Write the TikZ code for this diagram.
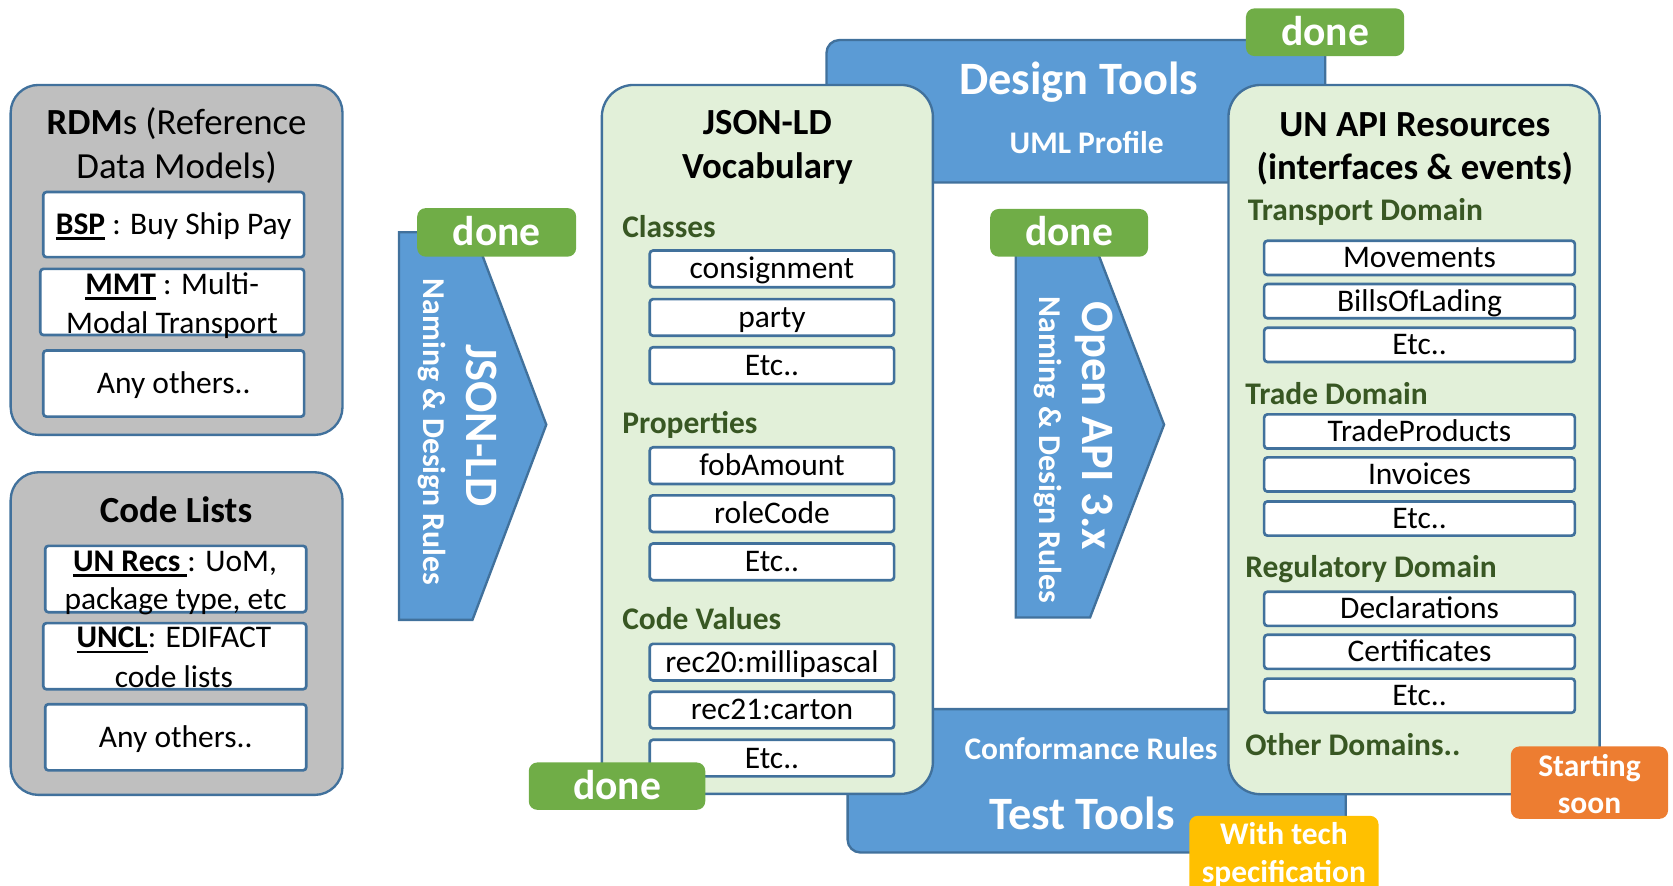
\documentclass[tikz,border=0pt]{standalone}
\usepackage{fontspec}
\setmainfont{Carlito}
\definecolor{bluefill}{HTML}{5B9BD5}
\definecolor{blueline}{HTML}{41719C}
\definecolor{grayfill}{HTML}{BFBFBF}
\definecolor{greenfill}{HTML}{E2F0D9}
\definecolor{darkgreen}{HTML}{385723}
\definecolor{donegreen}{HTML}{70AD47}
\definecolor{orangefill}{HTML}{ED7D31}
\definecolor{yellowfill}{HTML}{FFC000}
\newcommand\bodyfont{\fontsize{29.5}{36}\selectfont}
\newcommand\titlefont{\fontsize{34.5}{41}\selectfont}
\newcommand\bigfont{\fontsize{43.5}{52}\selectfont}
\newcommand\donefont{\fontsize{39}{46}\selectfont}
\newcommand\rulefont{\fontsize{29.8}{36}\selectfont}
\newcommand\myul[1]{\setbox0=\hbox{#1}\rlap{\rule[-5pt]{\wd0}{2.5pt}}\box0\relax}
\begin{document}
\begin{tikzpicture}[x=1pt,y=-1pt,
  cont/.style={draw=blueline, line width=2.2pt, inner sep=0pt},
  graybox/.style={cont, fill=grayfill, rounded corners=26pt},
  greenbox/.style={cont, fill=greenfill, rounded corners=30pt},
  bluebox/.style={cont, fill=bluefill, rounded corners=12pt},
  item/.style={draw=blueline, line width=2.5pt, fill=white, rounded corners=3pt, inner sep=0pt},
  fbody/.style={font=\bodyfont, text height=18.6pt, text depth=0pt, inner sep=0pt},
  ftitle/.style={font=\titlefont, text height=21.7pt, text depth=0pt, inner sep=0pt},
  fbig/.style={font=\bigfont, text height=27.4pt, text depth=0pt, inner sep=0pt},
  fdone/.style={font=\donefont, text height=24.6pt, text depth=0pt, inner sep=0pt},
  frule/.style={font=\rulefont, text height=18.8pt, text depth=0pt, inner sep=0pt},
  hdr/.style={fbody, text=darkgreen, anchor=west},
  badge/.style={rounded corners=8pt, text=white, inner sep=0pt},
  arrowshape/.style={draw=blueline, line width=2.2pt, fill=bluefill, line join=miter},
]
\useasboundingbox (0,0) rectangle (1568,830);

% background blue boxes
\node[bluebox, minimum width=467.4pt, minimum height=133.5pt] (design) at (1008.3,104.3) {};
\node[bluebox, minimum width=466.8pt, minimum height=134.4pt] (test) at (1027.8,731.8) {};
\node[fbig, text=white] (designt) at (1011,75) {\textbf{Design Tools}};
\node[fbody, text=white] (uml) at (1018.5,135) {\textbf{UML Profile}};
\node[fbody, text=white] (conf) at (1022.5,702.7) {\textbf{Conformance Rules}};
\node[fbig, text=white] (testt) at (1014,763.6) {\textbf{Test Tools}};

% containers
\node[graybox, minimum width=311pt, minimum height=328pt] (rdm) at (165.5,243.6) {};
\node[graybox, minimum width=311pt, minimum height=302.4pt] (codel) at (165.5,593.8) {};
\node[greenbox, minimum width=310.3pt, minimum height=664.4pt] (vocab) at (719.2,411.8) {};
\node[greenbox, minimum width=347.9pt, minimum height=664.7pt] (unapi) at (1325.3,412) {};

% RDMs
\node[ftitle] (rdmt1) at (165.5,115.5) {\textbf{RDM}s (Reference};
\node[ftitle] (rdmt2) at (165.5,156) {Data Models)};
\node[item, fbody, minimum width=244.5pt, minimum height=61pt] (bsp) at (162.8,210.5) {\myul{\textbf{BSP}} : Buy Ship Pay};
\node[item, minimum width=247.3pt, minimum height=62pt] (mmt) at (161.4,283) {};
\node[fbody] (mmt1) at (161.4,267) {\myul{\textbf{MMT}} : Multi-};
\node[fbody] (mmt2) at (161.2,303) {Modal Transport};
\node[item, fbody, minimum width=244.5pt, minimum height=62pt] (rdmany) at (162.8,359.5) {Any others..};

% Code lists
\node[ftitle] (clt) at (165,478.8) {\textbf{Code Lists}};
\node[item, minimum width=244.7pt, minimum height=62.2pt] (unrecs) at (164.7,542.7) {};
\node[fbody] (unrecs1) at (164,526.3) {\myul{\textbf{UN Recs }}: UoM,};
\node[fbody] (unrecs2) at (164.5,561.6) {package type, etc};
\node[item, minimum width=246.5pt, minimum height=62pt] (uncl) at (163.8,615) {};
\node[fbody] (uncl1) at (163,598) {\myul{\textbf{UNCL}}: EDIFACT};
\node[fbody] (uncl2) at (163,635) {code lists};
\node[item, fbody, minimum width=244.7pt, minimum height=62pt] (clany) at (164.7,691) {Any others..};

% left arrow
\draw[arrowshape] (374,217.7) -- (443.9,217.7) -- (512,398) -- (442.8,581) -- (374,581) -- cycle;
\node[fbig, text=white, rotate=-90] (jsonld) at (450.5,398.5) {\textbf{JSON-LD}};
\node[frule, text=white, rotate=-90] (rules1) at (406,405) {\textbf{Naming \& Design Rules}};
\node[badge, fill=donegreen, fdone, minimum width=149pt, minimum height=45.5pt] (done1) at (465.5,217.8) {\textbf{done}};

% vocabulary
\node[ftitle] (vt1) at (719.2,115.5) {\textbf{JSON-LD}};
\node[ftitle] (vt2) at (719.2,156) {\textbf{Vocabulary}};
\node[hdr] (classes) at (583,213) {\textbf{Classes}};
\node[item, fbody, minimum width=229pt, minimum height=34.3pt] (consign) at (723.5,252) {consignment};
\node[item, fbody, minimum width=229pt, minimum height=34.3pt] (party) at (723.5,297.5) {party};
\node[item, fbody, minimum width=229pt, minimum height=34.3pt] (etca) at (723.5,342.6) {Etc..};
\node[hdr] (props) at (583,396.6) {\textbf{Properties}};
\node[item, fbody, minimum width=229pt, minimum height=34.3pt] (fob) at (723.5,436.4) {fobAmount};
\node[item, fbody, minimum width=229pt, minimum height=34.3pt] (role) at (723.5,481.4) {roleCode};
\node[item, fbody, minimum width=229pt, minimum height=34.3pt] (etcb) at (723.5,526.6) {Etc..};
\node[hdr] (codev) at (583,581) {\textbf{Code Values}};
\node[item, fbody, minimum width=229pt, minimum height=34.3pt] (rec20) at (723.5,620.6) {rec20:millipascal};
\node[item, fbody, minimum width=229pt, minimum height=34.3pt] (rec21) at (723.5,665.5) {rec21:carton};
\node[item, fbody, minimum width=229pt, minimum height=34.3pt] (etcc) at (723.5,710.5) {Etc..};
\node[badge, fill=donegreen, fdone, minimum width=165.4pt, minimum height=44.4pt] (done2) at (578.3,736.8) {\textbf{done}};

% middle arrow
\draw[arrowshape] (952,218) -- (1021.6,218) -- (1091,398) -- (1021.6,578.8) -- (952,578.8) -- cycle;
\node[fbig, text=white, rotate=-90] (openapi) at (1028,399) {\textbf{Open API 3.x}};
\node[frule, text=white, rotate=-90] (rules2) at (983.5,421.5) {\textbf{Naming \& Design Rules}};
\node[badge, fill=donegreen, fdone, minimum width=148pt, minimum height=44.7pt] (done3) at (1002,218.2) {\textbf{done}};

% UN API resources
\node[ftitle] (ut1) at (1326,117) {\textbf{UN API Resources}};
\node[ftitle] (ut2) at (1326,157.7) {\textbf{(interfaces \& events)}};
\node[hdr] (transp) at (1169.4,197.4) {\textbf{Transport Domain}};
\node[item, fbody, minimum width=291.2pt, minimum height=32pt] (movem) at (1330.4,241.7) {Movements};
\node[item, fbody, minimum width=291.2pt, minimum height=32pt] (bills) at (1330.4,282.2) {BillsOfLading};
\node[item, fbody, minimum width=291.2pt, minimum height=32pt] (etcd) at (1330.4,323.2) {Etc..};
\node[hdr] (trade) at (1167,370) {\textbf{Trade Domain}};
\node[item, fbody, minimum width=291.2pt, minimum height=32pt] (tprod) at (1330.4,404.4) {TradeProducts};
\node[item, fbody, minimum width=291.2pt, minimum height=32pt] (invo) at (1330.4,444.7) {Invoices};
\node[item, fbody, minimum width=291.2pt, minimum height=32pt] (etce) at (1330.4,486) {Etc..};
\node[hdr] (regul) at (1167,532) {\textbf{Regulatory Domain}};
\node[item, fbody, minimum width=291.2pt, minimum height=32pt] (decl) at (1330.4,570.6) {Declarations};
\node[item, fbody, minimum width=291.2pt, minimum height=32pt] (cert) at (1330.4,610.9) {Certificates};
\node[item, fbody, minimum width=291.2pt, minimum height=32pt] (etcf) at (1330.4,652) {Etc..};
\node[hdr] (other) at (1167,699) {\textbf{Other Domains..}};

% top done
\node[badge, fill=donegreen, fdone, minimum width=148.3pt, minimum height=44.7pt] (done4) at (1241.9,30.2) {\textbf{done}};

% status badges
\node[badge, fill=orangefill, minimum width=147.3pt, minimum height=67.8pt] (orange) at (1489.7,733.5) {};
\node[fbody, text=white] (start1) at (1489.7,718.4) {\textbf{Starting}};
\node[fbody, text=white] (start2) at (1489.7,752.7) {\textbf{soon}};
\node[badge, fill=yellowfill, minimum width=177.4pt, minimum height=80pt] (yellow) at (1203.3,804.6) {};
\node[fbody, text=white] (with1) at (1203.3,781.8) {\textbf{With tech}};
\node[fbody, text=white] (with2) at (1203.3,818) {\textbf{specification}};
\end{tikzpicture}
\end{document}
